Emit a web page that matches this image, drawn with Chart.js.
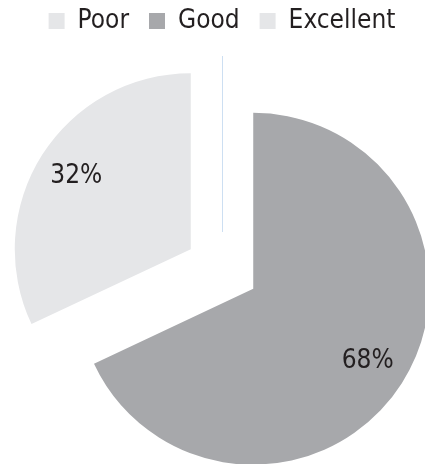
<!DOCTYPE html>
<html>
<head>
<meta charset="utf-8">
<script src="https://cdn.jsdelivr.net/npm/chart.js@4.4.1/dist/chart.umd.min.js"></script>
<style>
  html, body { margin: 0; padding: 0; background: #fff; overflow: hidden; }
  /* the pie runs off the bottom of the frame, as in the original */
  #wrap { width: 425px; height: 494px; }
</style>
</head>
<body>
<div id="wrap"><canvas id="ratingChart"></canvas></div>
<script>
const categories = ['Poor', 'Good', 'Excellent'];
const shares = [0, 68, 32];
const sliceColors = ['#e5e6e8', '#a7a8ab', '#e5e6e8'];
const edgeColors = ['#cddff2', '#a7a8ab', '#e5e6e8'];

const FONT = '"Liberation Sans Narrow", "DejaVu Sans Condensed", Roboto, sans-serif';
const GAP = 37;   // every slice is pulled out by this much
const PIE_R = 176;

const total = shares.reduce((a, b) => a + b, 0);

// draw the arcs ourselves so the pull-out is a plain shift (chart.js offset also grows the radius)
const explode = {
    id: 'explode',
    beforeDatasetDraw(chart, args) {
        const ctx = chart.ctx;
        args.meta.data.forEach((arc, i) => {
            const p = arc.getProps(['x', 'y', 'startAngle', 'endAngle', 'outerRadius'], true);
            const mid = (p.startAngle + p.endAngle) / 2;
            const dx = Math.cos(mid) * GAP;
            const dy = Math.sin(mid) * GAP;
            ctx.save();
            if (shares[i] === 0) {
                // an empty slice still shows as a hairline
                const x0 = Math.round(p.x + dx) + 0.5;
                ctx.strokeStyle = edgeColors[i];
                ctx.lineWidth = 1;
                ctx.beginPath();
                ctx.moveTo(x0, p.y + dy);
                ctx.lineTo(x0 + Math.cos(mid) * p.outerRadius, p.y + dy + Math.sin(mid) * p.outerRadius);
                ctx.stroke();
            } else {
                ctx.translate(dx, dy);
                arc.draw(ctx);
            }
            ctx.restore();
        });
        return false;
    },
    afterDatasetsDraw(chart) {
        const ctx = chart.ctx;
        const meta = chart.getDatasetMeta(0);
        ctx.save();
        ctx.fillStyle = '#231f20';
        ctx.font = '26px ' + FONT;
        ctx.textAlign = 'center';
        ctx.textBaseline = 'middle';
        meta.data.forEach((arc, i) => {
            if (shares[i] === 0) return;
            const p = arc.getProps(['x', 'y', 'startAngle', 'endAngle', 'outerRadius'], true);
            const mid = (p.startAngle + p.endAngle) / 2;
            const r = GAP + p.outerRadius * 0.77;
            ctx.fillText(Math.round(shares[i] / total * 100) + '%', p.x + Math.cos(mid) * r, p.y + Math.sin(mid) * r);
        });
        ctx.restore();
    }
};

new Chart(document.getElementById('ratingChart'), {
    type: 'pie',
    data: {
        labels: categories,
        datasets: [{
            data: shares,
            backgroundColor: sliceColors,
            borderColor: edgeColors,
            borderWidth: 0
        }]
    },
    options: {
        responsive: true,
        maintainAspectRatio: false,
        animation: false,
        radius: PIE_R,
        layout: { padding: { left: 19, top: -12 } },
        plugins: {
            tooltip: { enabled: false },
            legend: {
                position: 'top',
                labels: {
                    boxWidth: 16,
                    boxHeight: 16,
                    padding: 20,
                    color: '#231f20',
                    font: { family: FONT, size: 26 }
                }
            }
        }
    },
    plugins: [explode]
});
</script>
</body>
</html>
